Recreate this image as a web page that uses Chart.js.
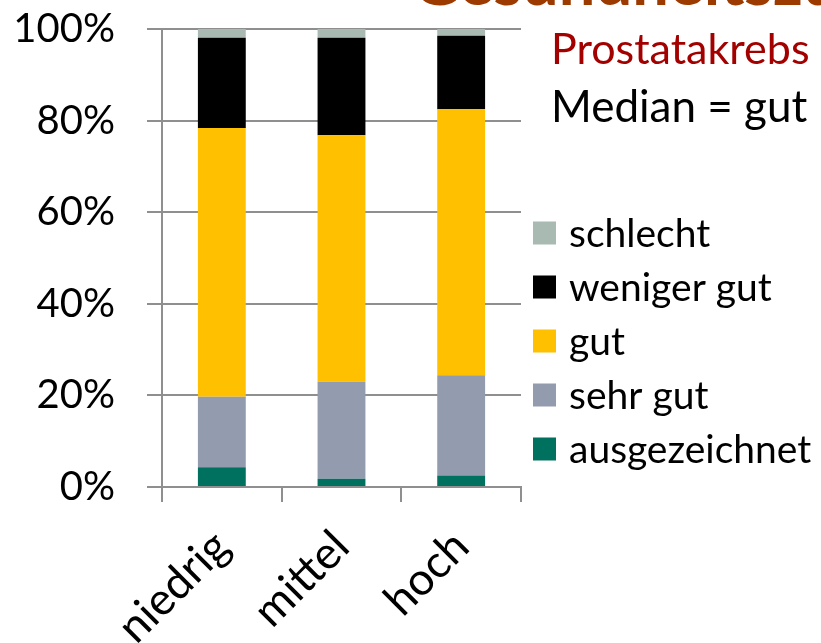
<!DOCTYPE html>
<html>
<head>
<meta charset="utf-8">
<script src="https://cdn.jsdelivr.net/npm/chart.js@4"></script>
<style>
  body { margin: 0; background: #fff; }
  #chart { display: block; }
</style>
</head>
<body>
<canvas id="chart" width="821" height="643"></canvas>
<script>
// Data (percent, stacked bottom -> top)
const categories = ['niedrig', 'mittel', 'hoch'];
const ausgezeichnet = [4.3, 1.8, 2.5];
const sehrGut = [15.4, 21.2, 21.9];
const gut = [58.7, 53.8, 58.1];
const wenigerGut = [19.7, 21.3, 16.0];
const schlecht = [1.9, 1.9, 1.5];
const yTicks = [0, 20, 40, 60, 80, 100];

const titleText = 'Gesundheitszustand';
const subText = 'Prostatakrebs';
const medianText = 'Median = gut';

const FONT = 'Lato, "Open Sans", sans-serif';
const gridColor = '#8f8f8f';

// Legend + side texts
const sideText = {
    id: 'sideText',
    afterDraw(chart) {
        const c = chart.ctx;
        c.save();
        c.textBaseline = 'alphabetic';
        c.textAlign = 'left';

        c.fillStyle = '#9c3a00';
        c.font = 'bold 65px ' + FONT;
        c.fillText(titleText, 412, 5);

        c.fillStyle = '#a30000';
        c.font = '43px ' + FONT;
        c.fillText(subText, 551, 64);

        c.fillStyle = '#000';
        c.font = '44px ' + FONT;
        c.fillText(medianText, 551, 122);

        // legend, top entry = last dataset
        const sets = chart.data.datasets.slice().reverse();
        c.font = '39px ' + FONT;
        c.textBaseline = 'middle';
        sets.forEach((ds, i) => {
            const yc = 233 + i * 54;
            c.fillStyle = ds.backgroundColor;
            c.fillRect(533, yc - 11.5, 23, 23);
            c.fillStyle = '#000';
            c.fillText(ds.label, 569, yc + 1);
        });
        c.restore();
    }
};

const ctx = document.getElementById('chart').getContext('2d');
const chart = new Chart(ctx, {
    type: 'bar',
    data: {
        labels: categories,
        datasets: [
            { label: 'ausgezeichnet', data: ausgezeichnet, backgroundColor: '#00705f' },
            { label: 'sehr gut', data: sehrGut, backgroundColor: '#929cae' },
            { label: 'gut', data: gut, backgroundColor: '#ffc000' },
            { label: 'weniger gut', data: wenigerGut, backgroundColor: '#000000' },
            { label: 'schlecht', data: schlecht, backgroundColor: '#a9bab2' }
        ]
    },
    options: {
        responsive: false,
        animation: false,
        datasets: {
            bar: {
                categoryPercentage: 1.0,
                barPercentage: 0.4,
                borderWidth: 0
            }
        },
        layout: { padding: { top: 29, right: 300, left: 0, bottom: 0 } },
        scales: {
            x: {
                stacked: true,
                afterFit: (scale) => { scale.height = 156; },
                grid: {
                    offset: true,
                    drawOnChartArea: false,
                    drawTicks: true,
                    tickLength: 15,
                    color: gridColor,
                    lineWidth: 2
                },
                border: { color: gridColor, width: 2 },
                ticks: {
                    minRotation: 45,
                    maxRotation: 45,
                    padding: 18,
                    color: '#000',
                    font: { family: FONT, size: 45 }
                }
            },
            y: {
                stacked: true,
                min: 0,
                max: 100,
                afterFit: (scale) => {
                    scale.width = 162;
                    scale.paddingTop = 0;
                    scale.paddingBottom = 0;
                },
                afterBuildTicks: (scale) => { scale.ticks = yTicks.map(v => ({ value: v })); },
                grid: {
                    drawTicks: true,
                    tickLength: 15,
                    color: gridColor,
                    lineWidth: 2
                },
                border: { color: gridColor, width: 2 },
                ticks: {
                    padding: 32,
                    color: '#000',
                    font: { family: FONT, size: 40 },
                    callback: (v) => v + '%'
                }
            }
        },
        plugins: {
            legend: { display: false },
            tooltip: { enabled: false }
        }
    },
    plugins: [sideText]
});
</script>
</body>
</html>
